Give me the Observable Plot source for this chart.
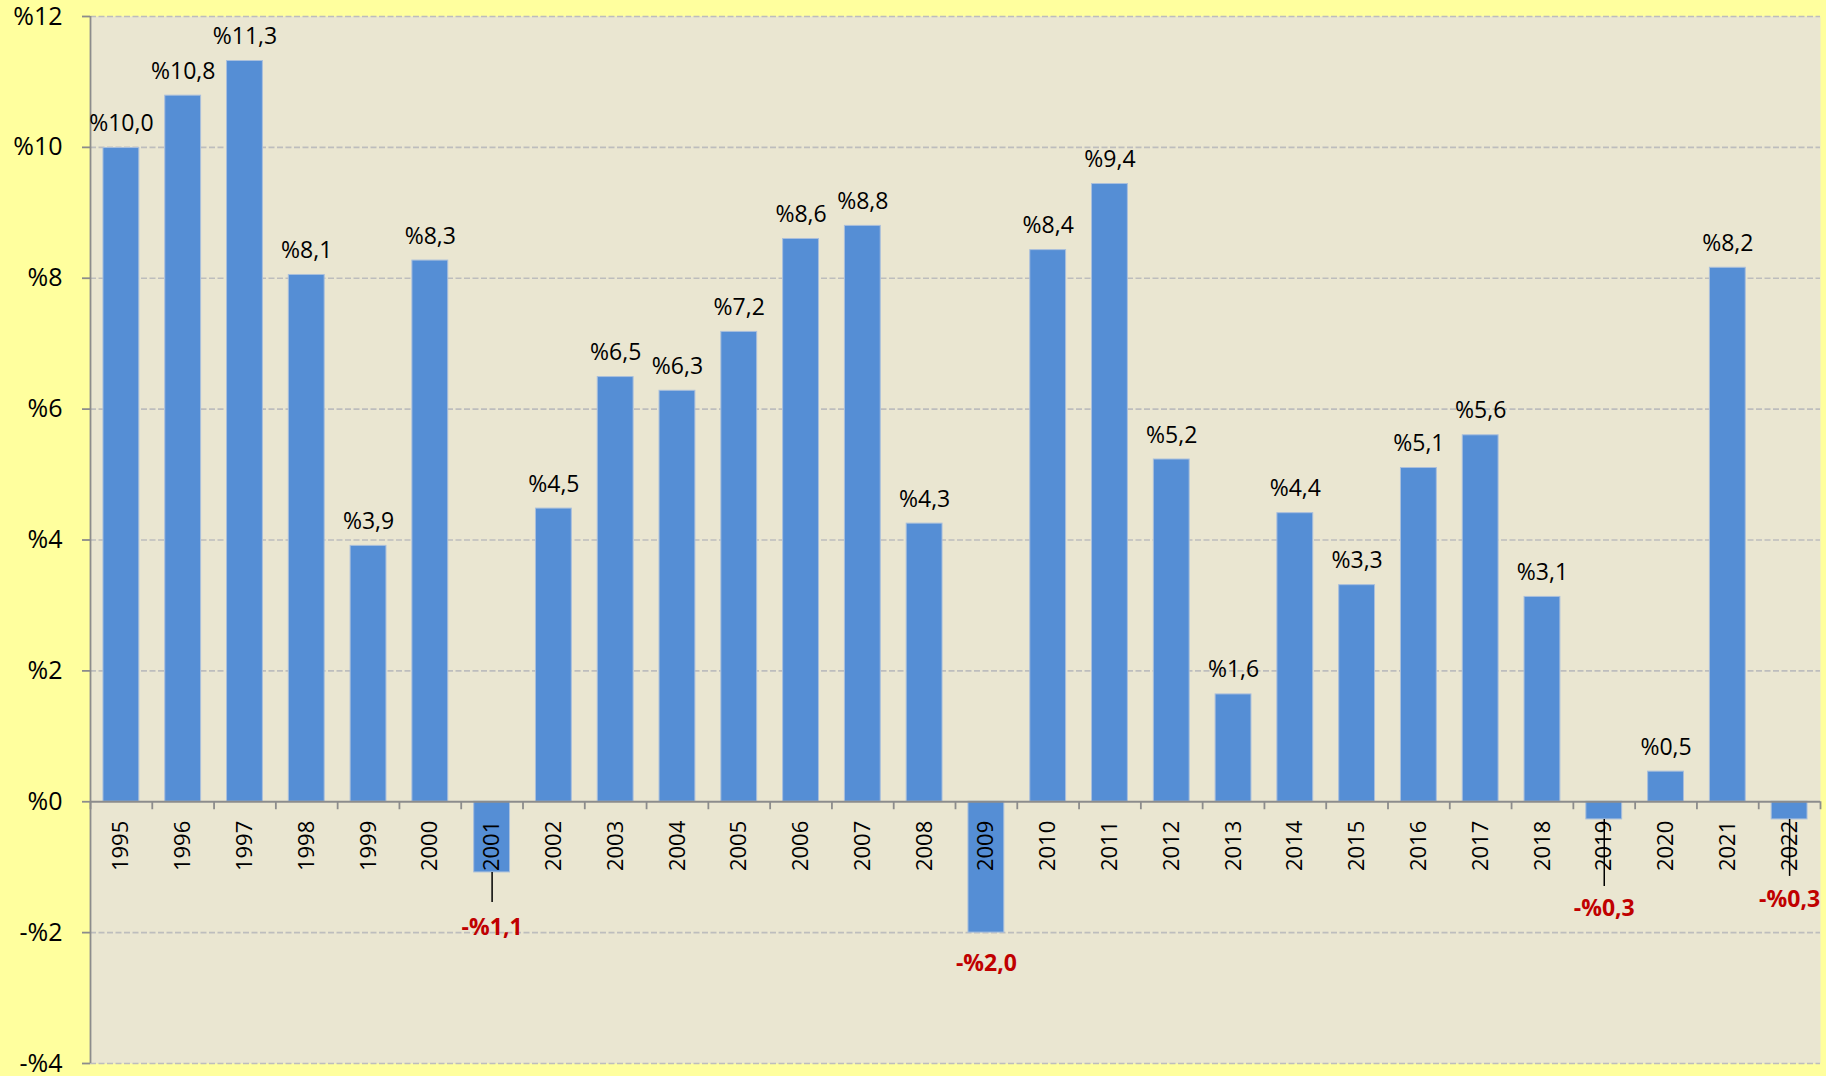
<!DOCTYPE html>
<html>
<head>
<meta charset="utf-8">
<script src="https://cdn.jsdelivr.net/npm/d3@7"></script>
<script src="https://cdn.jsdelivr.net/npm/@observablehq/plot@0.6"></script>
<style>
  html, body { margin: 0; padding: 0; background: #FFFF9E; }
  #chart svg { display: block; }
</style>
</head>
<body>
<div id="chart"></div>
<script>
// ---- data ----
const years = [1995, 1996, 1997, 1998, 1999, 2000, 2001, 2002, 2003, 2004, 2005, 2006, 2007, 2008,
               2009, 2010, 2011, 2012, 2013, 2014, 2015, 2016, 2017, 2018, 2019, 2020, 2021, 2022];
const values = [9.99, 10.79, 11.32, 8.05, 3.91, 8.27, -1.08, 4.48, 6.49, 6.28, 7.18, 8.60, 8.80, 4.25,
                -2.00, 8.43, 9.44, 5.23, 1.64, 4.41, 3.31, 5.10, 5.60, 3.13, -0.27, 0.46, 8.16, -0.27];
const labels = ["%10,0", "%10,8", "%11,3", "%8,1", "%3,9", "%8,3", "-%1,1", "%4,5", "%6,5", "%6,3", "%7,2",
                "%8,6", "%8,8", "%4,3", "-%2,0", "%8,4", "%9,4", "%5,2", "%1,6", "%4,4", "%3,3", "%5,1",
                "%5,6", "%3,1", "-%0,3", "%0,5", "%8,2", "-%0,3"];
const yTicks = [-4, -2, 0, 2, 4, 6, 8, 10, 12];
const yTickLabels = ["-%4", "-%2", "%0", "%2", "%4", "%6", "%8", "%10", "%12"];

// ---- layout (pixels) ----
const W = 1826, H = 1076;
const mL = 90, mR = 6, mT = 16, mB = 13;
const yDomain = [-4, 12];
const k = (H - mT - mB) / (yDomain[1] - yDomain[0]); // px per unit
const step = (W - mL - mR) / years.length;
const font = "'Open Sans', 'Liberation Sans', sans-serif";
const axisColor = "#8C8C8C";

const rows = years.map((y, i) => ({year: String(y), value: values[i], label: labels[i]}));
const pos = rows.filter(d => d.value >= 0);
const neg = rows.filter(d => d.value < 0);

// placement of negative labels: leader length (px) and label centre offset below bar end (px)
const negPlace = {
  "2001": {leader: 30, label: 55},
  "2009": {leader: 0, label: 31},
  "2019": {leader: 67, label: 89},
  "2022": {leader: 57, label: 80}
};
const leaders = neg.filter(d => negPlace[d.year].leader > 0).map(d => ({
  year: d.year, y1: d.value, y2: d.value - negPlace[d.year].leader / k
}));
const negLabels = neg.map(d => ({year: d.year, label: d.label, y: d.value - negPlace[d.year].label / k}));

const cats = years.map(String);
const tickLen = 8 / k;
const yLabelMap = new Map(yTicks.map((t, i) => [t, yTickLabels[i]]));

const chart = Plot.plot({
  width: W, height: H,
  marginLeft: mL, marginRight: mR, marginTop: mT, marginBottom: mB,
  style: {background: "#FFFF9E", fontFamily: font, overflow: "visible"},
  x: {domain: cats, paddingInner: 0.42, paddingOuter: 0.21, round: false, axis: null},
  y: {domain: yDomain, axis: null},
  marks: [
    Plot.frame({fill: "#EAE6D1", stroke: null}),
    // dashed gridlines
    Plot.ruleY(yTicks.filter(t => t !== 0), {stroke: "#BDBDBD", strokeWidth: 1.6, strokeDasharray: "6,2.5"}),
    // bars
    Plot.barY(rows, {x: "year", y: "value", fill: "#558ED5", stroke: "#A9BFDC", strokeWidth: 1}),
    // zero axis line
    Plot.ruleY([0], {stroke: axisColor, strokeWidth: 1.8}),
    // x tick marks at band boundaries
    Plot.ruleX(cats, {x: d => d, y1: 0, y2: -tickLen, dx: -step / 2, stroke: axisColor, strokeWidth: 1.8}),
    Plot.ruleX([cats[cats.length - 1]], {x: d => d, y1: 0, y2: -tickLen, dx: step / 2, stroke: axisColor, strokeWidth: 1.8}),
    // left axis line
    Plot.ruleX([cats[0]], {x: d => d, y1: yDomain[0], y2: yDomain[1], dx: -step / 2, stroke: axisColor, strokeWidth: 1.8}),
    // y axis ticks and labels
    Plot.axisY(yTicks, {tickSize: 8, tickPadding: 20, tickFormat: d => yLabelMap.get(d), fontSize: 25,
      stroke: axisColor, strokeWidth: 1.8, color: "#000", label: null}),
    // year labels
    Plot.text(rows, {x: "year", y: () => 0, text: "year", rotate: -90, textAnchor: "end", lineAnchor: "middle",
      dy: 19, fontSize: 22, fill: "#000"}),
    // positive labels
    Plot.text(pos, {x: "year", y: "value", text: "label", lineAnchor: "bottom", dy: -17, fontSize: 23, fill: "#000"}),
    // leader lines
    Plot.ruleX(leaders, {x: "year", y1: "y1", y2: "y2", stroke: "#000", strokeWidth: 1.5}),
    // negative labels
    Plot.text(negLabels, {x: "year", y: "y", text: "label", lineAnchor: "middle", fontSize: 23, fontWeight: "bold", fill: "#C00000"})
  ]
});

document.getElementById("chart").appendChild(chart);
</script>
</body>
</html>
